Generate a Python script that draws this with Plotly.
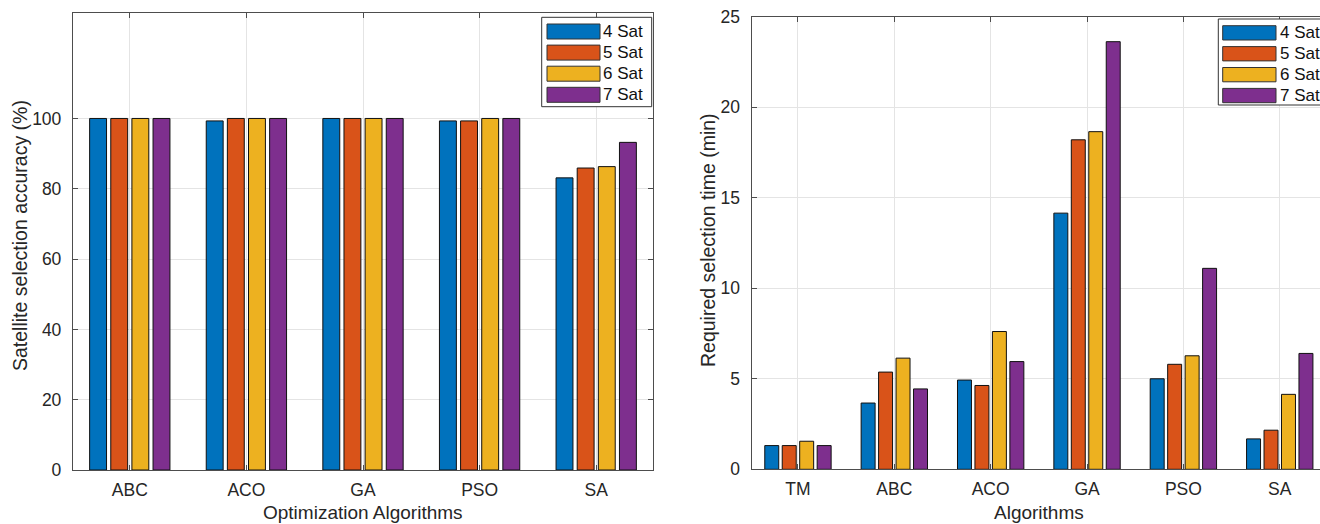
import plotly.graph_objects as go

# ---------------- data ----------------
acc_categories = ["ABC", "ACO", "GA", "PSO", "SA"]
acc_4sat = [100, 99.3, 100, 99.3, 83.1]
acc_5sat = [100, 100, 100, 99.3, 85.9]
acc_6sat = [100, 100, 100, 100, 86.3]
acc_7sat = [100, 100, 100, 100, 93.2]

time_categories = ["TM", "ABC", "ACO", "GA", "PSO", "SA"]
time_4sat = [1.31, 3.66, 4.93, 14.15, 5.0, 1.68]
time_5sat = [1.31, 5.37, 4.63, 18.2, 5.8, 2.16]
time_6sat = [1.55, 6.14, 7.61, 18.65, 6.27, 4.14]
time_7sat = [1.31, 4.44, 5.95, 23.62, 11.1, 6.4]

series_names = ["4 Sat", "5 Sat", "6 Sat", "7 Sat"]
acc_ticks = [0, 20, 40, 60, 80, 100]
time_ticks = [0, 5, 10, 15, 20, 25]

# ---------------- style ----------------
colors = ["#0072BD", "#D95319", "#EDB120", "#7E2F8E"]
W, H = 1330, 524
FONT = "Liberation Sans"
TXT = "#262626"
AX = "#4d4d4d"
GRID = "#e4e4e4"


def px(x):
    return x / W


def py(y):
    return 1 - y / H


fig = go.Figure()

for name, vals, c in zip(series_names, [acc_4sat, acc_5sat, acc_6sat, acc_7sat], colors):
    fig.add_trace(go.Bar(x=acc_categories, y=vals, name=name, marker=dict(color=c, line=dict(color="#111111", width=1)),
                         xaxis="x", yaxis="y", showlegend=False))
for name, vals, c in zip(series_names, [time_4sat, time_5sat, time_6sat, time_7sat], colors):
    fig.add_trace(go.Bar(x=time_categories, y=vals, name=name, marker=dict(color=c, line=dict(color="#111111", width=1)),
                         xaxis="x2", yaxis="y2", showlegend=False))

axis_common = dict(
    automargin=False,
    showline=True, linecolor=AX, linewidth=1.3, mirror="ticks",
    ticks="inside", ticklen=5, tickcolor=AX, tickwidth=1,
    showgrid=True, gridcolor=GRID, gridwidth=1, zeroline=False,
    tickfont=dict(family=FONT, size=17.5, color=TXT),
)

fig.update_layout(
    template="none",
    width=W, height=H,
    margin=dict(l=0, r=0, t=0, b=0, pad=0),
    paper_bgcolor="white", plot_bgcolor="white",
    barmode="group", bargap=0.275, bargroupgap=0.2,
    font=dict(family=FONT, color=TXT),
    xaxis=dict(domain=[px(73), px(653)], anchor="y", type="category",
               range=[-0.487, len(acc_categories) - 1 + 0.487], ticklabelstandoff=4, **axis_common),
    yaxis=dict(domain=[py(470), py(13)], anchor="x", range=[0, 130], tickvals=acc_ticks,
               ticklabelstandoff=7, **axis_common),
    xaxis2=dict(domain=[px(751.7), px(1326)], anchor="y2", type="category",
                range=[-0.48, len(time_categories) - 1 + 0.48], ticklabelstandoff=4, **axis_common),
    yaxis2=dict(domain=[py(469.3), py(16.7)], anchor="x2", range=[0, 25], tickvals=time_ticks,
                ticklabelstandoff=7, **axis_common),
)

annotations = [
    dict(text="Optimization Algorithms", x=px(363), y=py(524), xref="paper", yref="paper", borderpad=0,
         xanchor="center", yanchor="bottom", showarrow=False, font=dict(family=FONT, size=19, color=TXT)),
    dict(text="Algorithms", x=px(1039), y=py(524), xref="paper", yref="paper", borderpad=0,
         xanchor="center", yanchor="bottom", showarrow=False, font=dict(family=FONT, size=19, color=TXT)),
    dict(text="Satellite selection accuracy (%)", x=px(20), y=py(236), xref="paper", yref="paper",
         xanchor="center", yanchor="middle", textangle=-90, showarrow=False,
         font=dict(family=FONT, size=19.5, color=TXT)),
    dict(text="Required selection time (min)", x=px(708), y=py(240), xref="paper", yref="paper",
         xanchor="center", yanchor="middle", textangle=-90, showarrow=False,
         font=dict(family=FONT, size=19.5, color=TXT)),
]

shapes = []


def add_legend(box, sw_x0, sw_x1, sw_y0, pitch, sw_h, text_x):
    shapes.append(dict(type="rect", xref="paper", yref="paper", x0=px(box[0]), x1=px(box[2]),
                       y0=py(box[3]), y1=py(box[1]), line=dict(color="#333333", width=1),
                       fillcolor="white", layer="above"))
    for i, (name, c) in enumerate(zip(series_names, colors)):
        y0 = sw_y0 + i * pitch
        shapes.append(dict(type="rect", xref="paper", yref="paper", x0=px(sw_x0), x1=px(sw_x1),
                           y0=py(y0 + sw_h), y1=py(y0), line=dict(color="#333333", width=1),
                           fillcolor=c, layer="above"))
        annotations.append(dict(text=name, x=px(text_x), y=py(y0 + sw_h / 2), xref="paper", yref="paper",
                                xanchor="left", yanchor="middle", showarrow=False,
                                font=dict(family=FONT, size=17, color="#111111")))


add_legend((541.7, 17.3, 651.7, 106.7), 547, 600, 24, 21.1, 15, 601)
add_legend((1218.3, 19, 1328, 105), 1222.7, 1276, 25.7, 20.9, 14.3, 1278)

fig.update_layout(annotations=annotations, shapes=shapes)

fig.write_html("out.html",
               post_script="document.documentElement.style.overflow='hidden';document.body.style.overflow='hidden';")
